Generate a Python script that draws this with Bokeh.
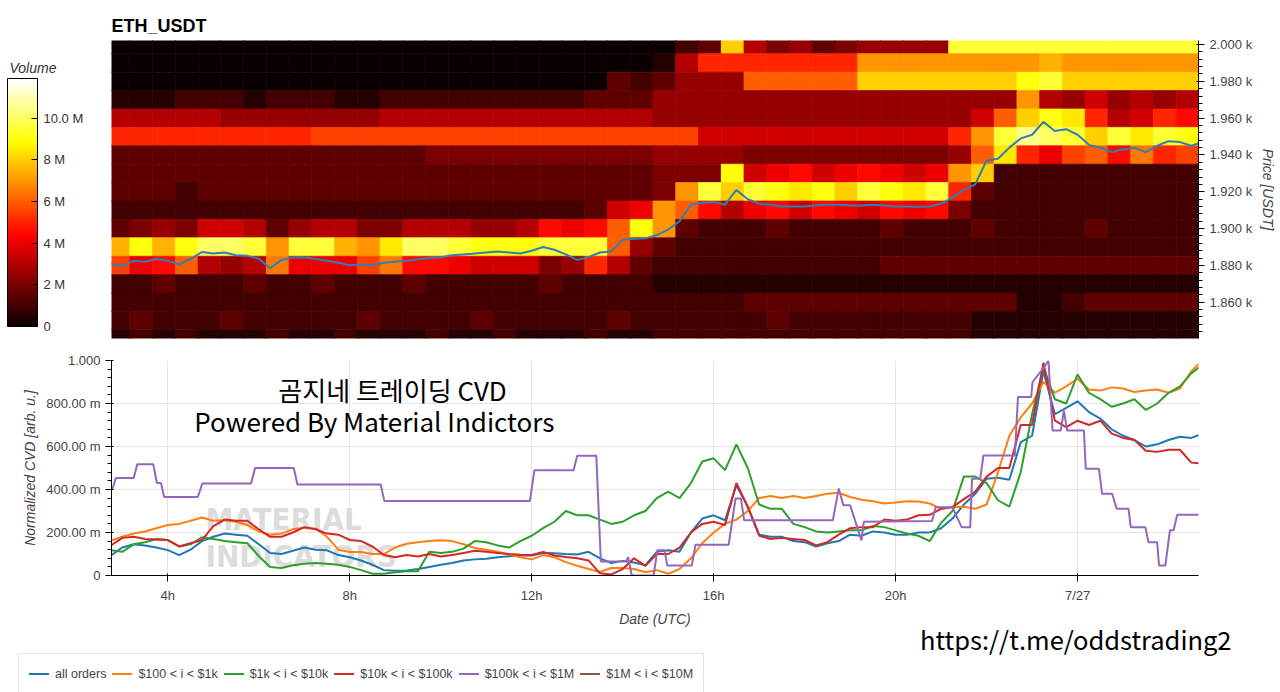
import html
import pandas as pd
from bokeh.plotting import figure
from bokeh.models import (ColumnDataSource, LinearColorMapper, ColorBar, FixedTicker, Range1d,
                          Label, Div)
from bokeh.layouts import column, row
from bokeh.embed import file_html
from bokeh.resources import INLINE
from bokeh.transform import linear_cmap

# ------------------------------------------------------------------ data
BASE_DAY = pd.Timestamp("2023-07-26 00:00")
X_START = "2023-07-26 02:45:45"
X_END = "2023-07-27 02:39:30"

# --- order-book heatmap: one row per 10 USDT price level (top -> bottom),
#     one character per 30-minute column; each step of a character = 0.5 M volume
PRICE_LEVELS = [2000, 1990, 1980, 1970, 1960, 1950, 1940, 1930, 1920,
                1910, 1900, 1890, 1880, 1870, 1860, 1850, 1840]
HEAT_ROWS = [
    "00000000" "00000000" "00000000" "023g6453" "45555jjj" "jjjjjjjj",
    "00000000" "00000000" "00000000" "16aaaaaa" "aeeeeeee" "efeeeeee",
    "00000000" "00000000" "00000032" "3555cccc" "cggggggg" "ijgggggg",
    "11122212" "22112222" "22222333" "55555555" "55555555" "e6575656",
    "66666555" "55556666" "66666666" "55555555" "5555557c" "giha67a9",
    "aaaaaaaa" "abbbbbbb" "bbbbbbbb" "bb777777" "77777aej" "lkjgjhji",
    "33333333" "33333344" "44444444" "55554444" "444445ch" "a8bc9dab",
    "33333333" "33333333" "33333333" "444i7897" "89878eg2" "22222222",
    "33323333" "33333333" "33333333" "4ejgjihi" "gjihja32" "22222222",
    "22222222" "22222222" "22222378" "ec968979" "87989422" "22222222",
    "34547763" "56644666" "556989ci" "e3222322" "22322232" "22232222",
    "fifikkje" "jjfehkkj" "iiijjjc5" "32222222" "22222222" "22222222",
    "b89c656d" "888bd998" "77745a63" "22222222" "22333333" "33333333",
    "22322232" "23222322" "22232222" "11111111" "11111111" "11111111",
    "22222222" "22222222" "22222222" "22223333" "33333333" "11233333",
    "23222322" "22232222" "32222232" "22222322" "22222211" "11111111",
    "12121112" "11211121" "12111211" "22222222" "22222211" "11111111",
]
HEAT_COL_START = "2023-07-26 02:40"
HEAT_COL_MINUTES = 30
VOLUME_STEP = 0.5e6
VOLUME_MAX = 11.9e6

# --- 15-minute samples starting 02:45
CVD_START = "2023-07-26 02:45"
CVD_STEP = "15min"

PRICE = [1881, 1879.5, 1882.5, 1882, 1883.5, 1882.5, 1880.5, 1883.5, 1887.3, 1886.5,
         1887, 1885.5, 1885.2, 1883.7, 1878.5, 1883, 1884.3, 1884.5, 1883.5, 1882.5,
         1881.5, 1880.1, 1880.5, 1880.1, 1881.5, 1882, 1882.5, 1883.3,
         1884, 1884.5, 1885.5, 1886, 1886.5, 1887, 1887.5, 1887, 1886.5, 1888,
         1890, 1888.5, 1886, 1883, 1884.5, 1887, 1887.5, 1894, 1894.5, 1894.7,
         1896.5, 1899.5, 1904, 1913, 1914, 1914.5, 1913, 1921, 1916, 1913.5,
         1913, 1912, 1912, 1912, 1912.5, 1913, 1913, 1912.5, 1912.5, 1913,
         1912.5, 1912, 1912, 1911.9, 1912, 1913.5, 1917, 1921, 1924, 1937,
         1938, 1944, 1949, 1951, 1958, 1953, 1954,
         1951, 1945.5, 1944, 1941.6, 1943, 1944, 1941.5, 1945, 1947.5, 1947, 1945, 1947]

ALL_ORDERS = [0.093, 0.13, 0.145, 0.14, 0.13, 0.118, 0.095, 0.12, 0.16, 0.18, 0.195, 0.19,
              0.185, 0.145, 0.105, 0.10, 0.115, 0.13, 0.12, 0.117, 0.095, 0.085, 0.07, 0.05,
              0.025, 0.022, 0.023,
              0.03, 0.04, 0.05, 0.058, 0.07, 0.075, 0.078, 0.085, 0.09, 0.093, 0.093, 0.105,
              0.104, 0.1, 0.098, 0.11, 0.08, 0.058, 0.068, 0.06, 0.048, 0.11, 0.117, 0.11,
              0.2, 0.265, 0.28, 0.257, 0.42, 0.32, 0.19, 0.18, 0.18, 0.16, 0.155, 0.135,
              0.15, 0.16, 0.19,
              0.185, 0.205, 0.2, 0.19, 0.19, 0.2, 0.2, 0.22, 0.265, 0.33, 0.38, 0.45, 0.455,
              0.445, 0.62, 0.65, 0.95, 0.75, 0.78, 0.81, 0.76, 0.73, 0.68, 0.65, 0.63, 0.6,
              0.61, 0.63, 0.645, 0.64, 0.66]

USD_100_1K = [0.163, 0.18, 0.195, 0.205, 0.22, 0.235, 0.24, 0.255, 0.27, 0.255, 0.257, 0.25,
              0.235, 0.205, 0.19, 0.195, 0.215, 0.222, 0.218, 0.18, 0.12, 0.109, 0.109, 0.10,
              0.10, 0.13, 0.148,
              0.155, 0.16, 0.164, 0.16, 0.145, 0.128, 0.12, 0.11, 0.098, 0.085, 0.075, 0.095,
              0.085, 0.062, 0.045, 0.03, 0.016, 0.035, 0.035, 0.03, 0.015, 0.025, 0.008, 0.03,
              0.08, 0.15, 0.2, 0.24, 0.26, 0.3, 0.36, 0.37, 0.36, 0.37, 0.36, 0.37, 0.38,
              0.385, 0.365,
              0.352, 0.345, 0.335, 0.34, 0.345, 0.344, 0.335, 0.31, 0.318, 0.32, 0.31, 0.33,
              0.48, 0.65, 0.735, 0.8, 0.9, 0.85, 0.88, 0.915, 0.865, 0.86, 0.875, 0.87,
              0.853, 0.86, 0.865, 0.85, 0.87, 0.95, 1.0]

USD_1K_10K = [0.117, 0.11, 0.145, 0.155, 0.17, 0.165, 0.135, 0.145, 0.178, 0.17, 0.16, 0.155,
              0.15, 0.09, 0.04, 0.035, 0.048, 0.055, 0.058, 0.055, 0.05, 0.04, 0.025, 0.008,
              0.008, 0.015, 0.02,
              0.02, 0.11, 0.105, 0.11, 0.125, 0.16, 0.155, 0.14, 0.13, 0.16, 0.185, 0.22,
              0.25, 0.3, 0.28, 0.28, 0.26, 0.24, 0.25, 0.28, 0.3, 0.36, 0.39, 0.36, 0.43,
              0.53, 0.545, 0.49, 0.61, 0.5, 0.33, 0.31, 0.31, 0.24, 0.225, 0.205, 0.2, 0.205,
              0.21,
              0.21, 0.23, 0.225, 0.21, 0.195, 0.185, 0.16, 0.245, 0.3, 0.46, 0.46, 0.43,
              0.35, 0.32, 0.48, 0.75, 0.97, 0.82, 0.8, 0.935, 0.85, 0.82, 0.785, 0.8, 0.82,
              0.77, 0.8, 0.85, 0.88, 0.94, 0.98]

USD_10K_100K = [0.14, 0.175, 0.18, 0.17, 0.168, 0.165, 0.135, 0.15, 0.165, 0.23, 0.26, 0.255,
                0.255, 0.215, 0.18, 0.18, 0.2, 0.225, 0.215, 0.195, 0.19, 0.165, 0.16, 0.135,
                0.095, 0.085, 0.095,
                0.088, 0.1, 0.088, 0.095, 0.105, 0.115, 0.11, 0.105, 0.1, 0.096, 0.095, 0.11,
                0.093, 0.086, 0.08, 0.07, 0.01, 0.005, 0.03, 0.08, 0.045, 0.1, 0.1, 0.13,
                0.2, 0.24, 0.25, 0.235, 0.43, 0.32, 0.185, 0.17, 0.175, 0.17, 0.165, 0.14,
                0.155, 0.19, 0.22,
                0.225, 0.225, 0.26, 0.255, 0.26, 0.28, 0.282, 0.31, 0.318, 0.355, 0.39, 0.46,
                0.5, 0.5, 0.7, 0.7, 0.99, 0.72, 0.69, 0.72, 0.7, 0.72, 0.66, 0.64, 0.63, 0.58,
                0.575, 0.585, 0.585, 0.525, 0.52]

# step-like series: (hours after 7/26 00:00, value) at its corners
USD_100K_1M_HOURS = [2.78, 2.86, 3.25, 3.33, 3.68, 3.76, 3.85, 3.92, 4.66, 4.76, 5.83, 5.92,
                     6.77, 6.85, 8.68, 8.76, 11.96, 12.06, 12.92, 13.0, 13.42, 13.52, 14.08,
                     14.12, 14.2, 14.68, 14.76, 14.92, 14.98, 15.52, 15.6, 16.33, 16.48, 16.6,
                     16.67, 18.62, 18.75, 18.85, 19.0, 19.25, 19.3, 20.8, 20.88, 21.25, 21.45,
                     21.64, 21.68, 21.86, 21.93, 22.62, 22.69, 22.98, 23.01, 23.27, 23.36,
                     23.45, 23.63, 23.7, 23.77, 24.14, 24.18, 24.47, 24.54, 24.76, 24.86,
                     25.12, 25.17, 25.49, 25.56, 25.75, 25.79, 25.93, 26.03, 26.11, 26.19, 26.75]
USD_100K_1M = [0.40, 0.454, 0.454, 0.518, 0.518, 0.43, 0.43, 0.365, 0.365, 0.428, 0.428, 0.50,
               0.50, 0.423, 0.423, 0.347, 0.347, 0.49, 0.49, 0.557, 0.557, 0.065, 0.065,
               0.085, 0.0, 0.0, 0.117, 0.117, 0.047, 0.047, 0.143, 0.143, 0.358, 0.358,
               0.257, 0.257, 0.405, 0.327, 0.327, 0.163, 0.25, 0.253, 0.318, 0.318, 0.225,
               0.225, 0.45, 0.45, 0.558, 0.558, 0.83, 0.83, 0.9, 0.97, 1.0,
               0.674, 0.674, 0.767, 0.674, 0.674, 0.496, 0.496, 0.38, 0.38, 0.31,
               0.31, 0.225, 0.225, 0.155, 0.155, 0.047, 0.047, 0.21, 0.21, 0.282, 0.282]

USD_1M_10M = []   # no visible data

SERIES_LABELS = ["all orders", "$100 < i < $1k", "$1k < i < $10k", "$10k < i < $100k",
                 "$100k < i < $1M", "$1M < i < $10M"]
SERIES_COLORS = ["#1f77b4", "#ff7f0e", "#2ca02c", "#d62728", "#9467bd", "#8c564b"]

PRICE_TICKS = [1860, 1880, 1900, 1920, 1940, 1960, 1980, 2000]
PRICE_TICK_LABELS = ["1.860 k", "1.880 k", "1.900 k", "1.920 k", "1.940 k", "1.960 k",
                     "1.980 k", "2.000 k"]
VOLUME_TICKS = [0, 2000000, 4000000, 6000000, 8000000, 10000000]
VOLUME_TICK_LABELS = ["0", "2 M", "4 M", "6 M", "8 M", "10.0 M"]
CVD_TICKS = [0, 0.2, 0.4, 0.6, 0.8, 1.0]
CVD_TICK_LABELS = ["0", "200.00 m", "400.00 m", "600.00 m", "800.00 m", "1.000"]
TIME_TICKS = ["2023-07-26 04:00", "2023-07-26 08:00", "2023-07-26 12:00",
              "2023-07-26 16:00", "2023-07-26 20:00", "2023-07-27 00:00"]
TIME_TICK_LABELS = ["4h", "8h", "12h", "16h", "20h", "7/27"]

TITLE = "ETH_USDT"
NOTE_1 = "곰지네 트레이딩 CVD"
NOTE_2 = "Powered By Material Indictors"
URL = "https://t.me/oddstrading2"

# ------------------------------------------------------------------ helpers
def ms(ts):
    return pd.Timestamp(ts).value / 1e6

def at_hour(h):
    return ms(BASE_DAY + pd.Timedelta(hours=h))

def hot_palette(n=256):
    cols = []
    for i in range(n):
        x = i / (n - 1)
        r = min(1.0, 0.0416 + x / 0.365079 * (1 - 0.0416))
        g = min(1.0, max(0.0, (x - 0.365079) / (0.746032 - 0.365079)))
        b = min(1.0, max(0.0, (x - 0.746032) / (1 - 0.746032)))
        cols.append("#%02x%02x%02x" % (round(r * 255), round(g * 255), round(b * 255)))
    return cols

HOT = hot_palette()

cvd_times = pd.date_range(CVD_START, periods=len(ALL_ORDERS), freq=CVD_STEP)
purple_times = [BASE_DAY + pd.Timedelta(hours=h) for h in USD_100K_1M_HOURS]

col_starts = pd.date_range(HEAT_COL_START, periods=len(HEAT_ROWS[0]), freq=f"{HEAT_COL_MINUTES}min")
hx, hy, hv = [], [], []
for level, rw in zip(PRICE_LEVELS, HEAT_ROWS):
    for c0, ch in zip(col_starts, rw):
        hx.append(c0 + pd.Timedelta(minutes=HEAT_COL_MINUTES / 2))
        hy.append(level)
        hv.append(int(ch, 36) * VOLUME_STEP)
heat_src = ColumnDataSource(dict(x=hx, y=hy, v=hv))

xr = Range1d(pd.Timestamp(X_START), pd.Timestamp(X_END))

# ------------------------------------------------------------------ colour bar (own panel)
# frame of this panel is aligned with the heatmap frame (y 40..338 on the page)
cbfig = figure(width=111, height=345, toolbar_location=None, output_backend="svg", min_border=0,
               x_axis_location=None, y_axis_location=None, title=None,
               x_range=Range1d(0, 111), y_range=Range1d(-338, -40))
cbfig.outline_line_color = None
cbfig.grid.visible = False
mapper = LinearColorMapper(palette=HOT, low=0, high=VOLUME_MAX)
cb = ColorBar(color_mapper=mapper, ticker=FixedTicker(ticks=VOLUME_TICKS),
              major_label_overrides=dict(zip(VOLUME_TICKS, VOLUME_TICK_LABELS)),
              major_label_text_font_size="13px", major_label_text_color="#333333",
              width=30, height=248, location=(2, 7), bar_line_color="black",
              major_tick_line_color="black", major_tick_in=6, major_tick_out=0,
              label_standoff=6, padding=5, margin=0,
              background_fill_alpha=0, border_line_color=None)
cbfig.add_layout(cb, "center")
cbfig.add_layout(Label(x=9, y=-67, text="Volume", text_font_style="italic",
                       text_font_size="14px", text_color="#333333", text_baseline="middle"))

# ------------------------------------------------------------------ top: heatmap
p = figure(width=1169, height=345, x_range=xr, y_range=Range1d(1840.3, 2002.2),
           x_axis_location=None, y_axis_location="right", toolbar_location=None,
           output_backend="svg", min_border_left=0, min_border_right=82,
           min_border_top=40, min_border_bottom=7, title=TITLE)
p.title.text_font_size = "18px"
p.title.text_color = "#000000"
p.grid.visible = False
p.outline_line_color = None

cmap = linear_cmap("v", HOT, 0, VOLUME_MAX)
p.rect(x="x", y="y", width=HEAT_COL_MINUTES * 60 * 1000, height=10, source=heat_src,
       fill_color=cmap, line_color=cmap, line_width=0.7)
p.line(cvd_times, PRICE, color="#2f7fb5", line_width=2)

p.yaxis.ticker = FixedTicker(ticks=PRICE_TICKS, minor_ticks=[1840 + 4 * i for i in range(42)])
p.yaxis.major_label_overrides = dict(zip(PRICE_TICKS, PRICE_TICK_LABELS))
p.yaxis.axis_label = "Price [USDT]"
p.yaxis.axis_label_text_font_size = "14px"
p.yaxis.axis_label_text_font_style = "italic"
p.yaxis.major_label_text_font_size = "13px"

# ------------------------------------------------------------------ bottom: CVD
p2 = figure(width=1280, height=284, x_range=xr, y_range=Range1d(0, 1.0),
            toolbar_location=None, output_backend="svg", title=None,
            min_border_left=111, min_border_right=82, min_border_top=15, min_border_bottom=54)
p2.outline_line_color = None

for txt, yy in (("MATERIAL", 0.262), ("INDICATORS", 0.09)):
    p2.add_layout(Label(x=at_hour(4.83), y=yy, text=txt,
                        text_font="DejaVu Sans Condensed, Roboto, sans-serif",
                        text_font_style="bold", text_font_size="31px", text_color="#dcdcdc",
                        text_baseline="middle", level="underlay"))

series = [(cvd_times, ALL_ORDERS), (cvd_times, USD_100_1K), (cvd_times, USD_1K_10K),
          (cvd_times, USD_10K_100K), (purple_times, USD_100K_1M), ([], USD_1M_10M)]
for (xs, ys), col in zip(series, SERIES_COLORS):
    p2.line(list(xs), list(ys), color=col, line_width=2)

p2.xaxis.ticker = FixedTicker(ticks=[ms(t) for t in TIME_TICKS], minor_ticks=[])
p2.xaxis.major_label_overrides = {ms(t): l for t, l in zip(TIME_TICKS, TIME_TICK_LABELS)}
p2.xaxis.axis_label = "Date (UTC)"
p2.xaxis.major_label_standoff = 6
p2.yaxis.ticker = FixedTicker(ticks=CVD_TICKS, minor_ticks=[0.04 * i for i in range(26)])
p2.yaxis.major_label_overrides = dict(zip(CVD_TICKS, CVD_TICK_LABELS))
p2.yaxis.axis_label = "Normalized CVD [arb. u.]"
for ax in (p2.xaxis, p2.yaxis):
    ax.axis_label_text_font_size = "14px"
    ax.axis_label_text_font_style = "italic"
    ax.major_label_text_font_size = "13px"

p2.add_layout(Label(x=at_hour(8.94), y=0.864, text=NOTE_1,
                    text_font="Noto Sans CJK KR", text_font_size="26px", text_align="center",
                    text_baseline="middle", text_color="black"))
p2.add_layout(Label(x=at_hour(8.54), y=0.72, text=NOTE_2,
                    text_font="Noto Sans CJK KR", text_font_size="26px", text_align="center",
                    text_baseline="middle", text_color="black"))

# ------------------------------------------------------------------ legend strip + link
items = []
for i, (lab, col) in enumerate(zip(SERIES_LABELS, SERIES_COLORS)):
    items.append(
        f'<span style="display:inline-block;width:20px;height:0;border-top:2px solid {col};'
        f'vertical-align:middle;margin:0 6px 0 {0 if i == 0 else 6}px"></span>'
        f'<span style="vertical-align:middle">{html.escape(lab)}</span>')
strip_html = (
    '<div style="position:relative;width:1280px;height:63px">'
    '<div style="position:absolute;left:920px;top:-6px;font-family:\'Noto Sans CJK KR\';'
    f'font-size:25.5px;line-height:32px;color:#000;white-space:nowrap">{html.escape(URL)}</div>'
    '<div style="position:absolute;left:18px;top:24px;padding:9px 10px 12px 10px;'
    'border:1px solid #e5e5e5;font-family:helvetica,arial,sans-serif;font-size:12.5px;'
    'line-height:20px;color:#444;white-space:nowrap;background:#fff">'
    + "".join(items) + '</div></div>')
strip = Div(text=strip_html, width=1280, height=63, margin=(0, 0, 0, 0))

layout = column(row(cbfig, p), p2, strip)
open("out.html", "w").write(file_html(layout, INLINE))
